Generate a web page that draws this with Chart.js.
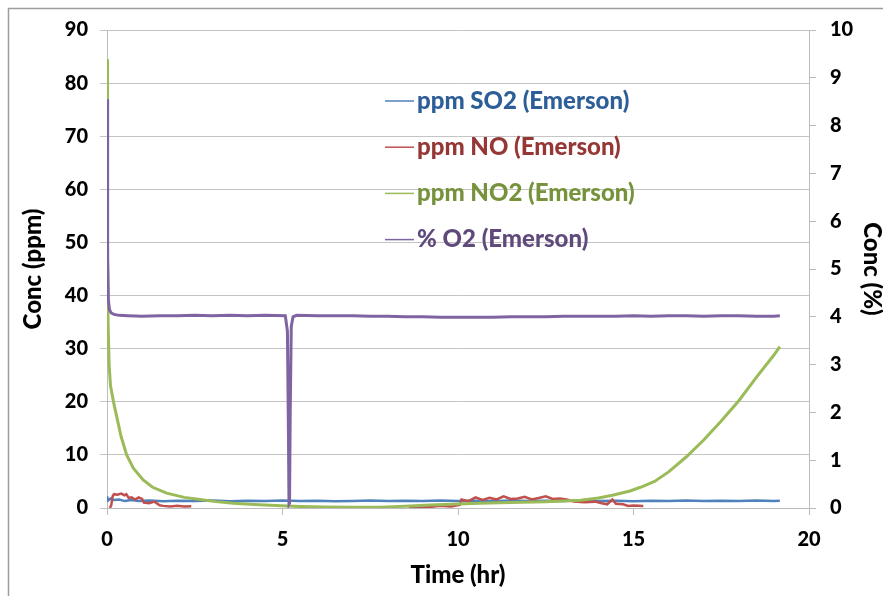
<!DOCTYPE html>
<html>
<head>
<meta charset="utf-8">
<script src="https://cdn.jsdelivr.net/npm/chart.js@4.4.1/dist/chart.umd.min.js"></script>
<style>
  html, body { margin: 0; padding: 0; background: #fff; }
  #wrap { width: 883px; height: 596px; }
</style>
</head>
<body>
<div id="wrap"><canvas id="myChart" width="883" height="596"></canvas></div>
<script>
// data: [time (hr), value]
var so2Points = [[0, 2.2], [0.03, 1.4], [0.1, 1.8], [0.2, 1.5], [0.35, 1.6], [0.5, 1.3], [0.7, 1.5], [0.9, 1.3], [1.2, 1.4], [1.6, 1.25],
  [2.0, 1.35], [2.5, 1.3], [3.0, 1.4], [3.5, 1.25], [4.0, 1.35], [4.5, 1.3], [5.0, 1.4], [5.5, 1.3], [6.0, 1.35], [6.5, 1.25],
  [7.0, 1.3], [7.5, 1.4], [8.0, 1.3], [8.5, 1.35], [9.0, 1.3], [9.5, 1.4], [10.0, 1.3], [10.5, 1.35], [11.0, 1.25], [11.5, 1.4],
  [12.0, 1.3], [12.5, 1.35], [13.0, 1.3], [13.5, 1.4], [14.0, 1.3], [14.5, 1.35], [15.0, 1.25], [15.5, 1.35], [16.0, 1.3], [16.5, 1.4],
  [17.0, 1.3], [17.5, 1.35], [18.0, 1.3], [18.5, 1.4], [19.0, 1.3], [19.17, 1.35]];

var noPoints = [[0.08, 0], [0.12, 0.5], [0.16, 2.2], [0.2, 2.6], [0.3, 2.5], [0.4, 2.7], [0.5, 2.4], [0.55, 2.6], [0.62, 1.9], [0.7, 2.0],
  [0.8, 1.6], [0.9, 2.0], [1.0, 1.7], [1.05, 1.0], [1.2, 0.9], [1.35, 1.2], [1.5, 0.5], [1.6, 0.4], [1.8, 0.3], [2.0, 0.4],
  [2.2, 0.3], [2.4, 0.35], [2.5, null],
  [8.6, 0.2], [8.9, 0.3], [9.2, 0.2], [9.5, 0.4], [9.8, 0.3], [10.05, 0.6], [10.1, 1.6], [10.3, 1.3], [10.5, 2.0], [10.7, 1.5],
  [10.9, 1.9], [11.1, 1.6], [11.3, 2.2], [11.5, 1.7], [11.7, 1.8], [11.9, 2.1], [12.1, 1.6], [12.3, 1.9], [12.5, 2.2], [12.7, 1.7],
  [12.9, 1.8], [13.1, 1.6], [13.3, 1.2], [13.6, 1.1], [13.9, 1.2], [14.1, 0.9], [14.25, 0.7], [14.4, 1.6], [14.5, 0.8], [14.7, 0.7],
  [14.85, 0.4], [15.0, 0.45], [15.28, 0.4]];

var no2Points = [[0, 84.5], [0.015, 50], [0.03, 35], [0.06, 27], [0.1, 23], [0.2, 19.5], [0.3, 16.5], [0.4, 13.5], [0.56, 10], [0.75, 7.5],
  [1.03, 5.3], [1.3, 3.9], [1.7, 2.8], [2.2, 2.0], [2.65, 1.6], [3.1, 1.2], [3.6, 0.9], [4.2, 0.65], [4.8, 0.45], [5.5, 0.3],
  [6.2, 0.2], [7.0, 0.15], [7.8, 0.15], [8.5, 0.35], [9.2, 0.55], [10.0, 0.75], [10.6, 0.9], [11.5, 1.05], [12.5, 1.2], [13.5, 1.45],
  [14.0, 1.9], [14.4, 2.4], [14.9, 3.2], [15.2, 3.9], [15.6, 5.0], [16.0, 6.8], [16.5, 9.6], [17.0, 12.8], [17.5, 16.4], [18.0, 20.2],
  [18.5, 24.6], [19.0, 28.8], [19.17, 30.4]];

// % O2, right axis
var o2Points = [[0, 8.55], [0.01, 7.0], [0.025, 5.2], [0.04, 4.35], [0.07, 4.15], [0.12, 4.08], [0.2, 4.05], [0.35, 4.03], [0.6, 4.02], [1.0, 4.01],
  [1.5, 4.02], [2.0, 4.02], [2.5, 4.03], [3.0, 4.02], [3.5, 4.03], [4.0, 4.02], [4.5, 4.03], [5.08, 4.02], [5.14, 3.7], [5.17, 1.5],
  [5.185, 0.08], [5.2, 0.1], [5.22, 2.0], [5.25, 3.8], [5.3, 4.0], [5.4, 4.03], [6.0, 4.02], [6.5, 4.02], [7.0, 4.02], [7.5, 4.01],
  [8.0, 4.01], [8.5, 4.0], [9.0, 4.0], [9.5, 3.99], [10.0, 3.99], [10.5, 3.99], [11.0, 3.99], [11.5, 4.0], [12.0, 4.0], [12.5, 4.0],
  [13.0, 4.01], [13.5, 4.01], [14.0, 4.01], [14.5, 4.01], [15.0, 4.02], [15.5, 4.01], [16.0, 4.02], [16.5, 4.02], [17.0, 4.01], [17.5, 4.02],
  [18.0, 4.02], [18.5, 4.01], [19.0, 4.01], [19.17, 4.02]];

var seriesNames = ['ppm SO2 (Emerson)', 'ppm NO (Emerson)', 'ppm NO2 (Emerson)', '% O2 (Emerson)'];
var lineColors = ['#4f81bd', '#c0504d', '#9bbb59', '#8064a2'];
var textColors = ['#2d5e98', '#953735', '#76933c', '#604a7b'];

function toXY(points) {
    return points.map(function (p) { return { x: p[0], y: p[1] }; });
}

var tickFont = { family: 'Lato', size: 20, weight: 900 };
var titleFont = { family: 'Lato', size: 24, weight: 900 };

// legend drawn inside the plot like the original
var insideLegend = {
    id: 'insideLegend',
    afterDraw: function (chart) {
        var ctx = chart.ctx;
        var area = chart.chartArea;
        ctx.save();
        ctx.font = '900 24px Lato';
        ctx.textBaseline = 'middle';
        seriesNames.forEach(function (name, i) {
            var y = area.top + 71 + i * 46.2;
            var x = area.left + 278;
            ctx.strokeStyle = lineColors[i];
            ctx.lineWidth = 1.5;
            ctx.beginPath();
            ctx.moveTo(x, y);
            ctx.lineTo(x + 29, y);
            ctx.stroke();
            ctx.fillStyle = textColors[i];
            ctx.fillText(name, x + 32, y);
        });
        ctx.restore();
    }
};

// grey frame on top and left like the pasted chart
var frame = {
    id: 'frame',
    beforeDraw: function (chart) {
        var ctx = chart.ctx;
        ctx.save();
        ctx.strokeStyle = '#9d9d9d';
        ctx.lineWidth = 1.5;
        ctx.beginPath();
        ctx.moveTo(8.5, chart.height);
        ctx.lineTo(8.5, 8.5);
        ctx.lineTo(chart.width, 8.5);
        ctx.stroke();
        ctx.restore();
    }
};

var chart = document.querySelector('#myChart');
var myChart = new Chart(chart, {
    type: 'line',
    data: {
        datasets: [{
            label: seriesNames[0],
            data: toXY(so2Points),
            borderColor: lineColors[0],
            borderWidth: 2.5,
            yAxisID: 'y',
            order: 3
        }, {
            label: seriesNames[1],
            data: toXY(noPoints),
            borderColor: lineColors[1],
            borderWidth: 2.5,
            yAxisID: 'y',
            order: 2
        }, {
            label: seriesNames[2],
            data: toXY(no2Points),
            borderColor: lineColors[2],
            borderWidth: 3,
            yAxisID: 'y',
            order: 1
        }, {
            label: seriesNames[3],
            data: toXY(o2Points),
            borderColor: lineColors[3],
            borderWidth: 3,
            yAxisID: 'y2',
            order: 0
        }]
    },
    options: {
        responsive: false,
        animation: false,
        spanGaps: false,
        elements: {
            point: { radius: 0 },
            line: { tension: 0 }
        },
        layout: { padding: { top: 30, left: 0, right: 0, bottom: 0 } },
        plugins: {
            legend: { display: false },
            tooltip: { enabled: false }
        },
        scales: {
            x: {
                type: 'linear',
                min: 0,
                max: 20,
                ticks: { stepSize: 5, font: tickFont, color: '#000', padding: 13 },
                grid: { drawOnChartArea: false, drawTicks: true, tickLength: 7, color: '#bcbcbc' },
                border: { color: '#bcbcbc' },
                title: { display: true, text: 'Time (hr)', font: titleFont, color: '#000', padding: { top: 0, bottom: 6 } },
                afterFit: function (s) { s.height = 88; }
            },
            y: {
                position: 'left',
                min: 0,
                max: 90,
                ticks: { stepSize: 10, font: tickFont, color: '#000', padding: 12 },
                grid: { color: '#c4c4c4', tickLength: 7 },
                border: { color: '#bcbcbc' },
                title: { display: true, text: 'Conc (ppm)', font: titleFont, color: '#000', padding: { top: 19, bottom: 0 } },
                afterFit: function (s) { s.width = 107; }
            },
            y2: {
                position: 'right',
                min: 0,
                max: 10,
                ticks: { stepSize: 1, font: tickFont, color: '#000', padding: 14 },
                grid: { drawOnChartArea: false, tickLength: 7, color: '#bcbcbc' },
                border: { color: '#bcbcbc' },
                title: { display: true, text: 'Conc (%)', font: { family: 'Lato', size: 24, weight: 900, lineHeight: 1 }, color: '#000', padding: { top: -1, bottom: 0 } },
                afterFit: function (s) { s.width = 74; }
            }
        }
    },
    plugins: [frame, insideLegend]
});
</script>
</body>
</html>
